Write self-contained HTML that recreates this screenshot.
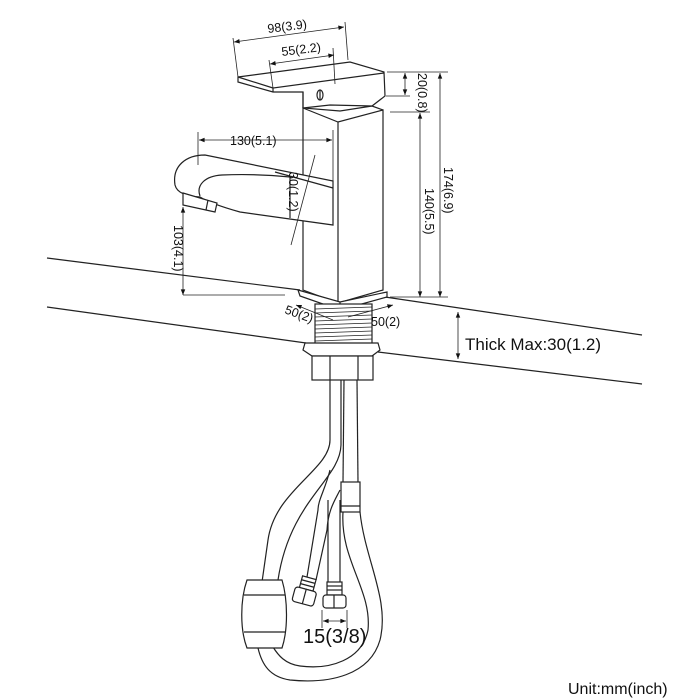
<!DOCTYPE html>
<html><head><meta charset="utf-8"><style>
html,body{margin:0;padding:0;background:#fff}
svg{display:block}
text{font-family:"Liberation Sans",Arial,sans-serif;fill:#111}
</style></head><body>
<svg width="700" height="700" viewBox="0 0 700 700" xmlns="http://www.w3.org/2000/svg">
<defs>
<marker id="a" viewBox="0 0 10 10" refX="10" refY="5" markerWidth="8" markerHeight="7" orient="auto-start-reverse"><path d="M0,1 L10,5 L0,9z" fill="#111"/></marker>
</defs>
<g fill="none" stroke="#222" stroke-width="1.2">
<!-- sink lines -->
<line x1="47" y1="258" x2="300" y2="290"/>
<line x1="385" y1="297" x2="642" y2="335"/>
<line x1="47" y1="307" x2="306" y2="343"/>
<line x1="378" y1="352" x2="642" y2="384"/>

<!-- handle -->
<path d="M238,77 L350,62 L384,72 L385,96 L372,106 L340,111 L303,108 L303,92 L273,92 L238,82 Z" fill="#fff"/>
<path d="M273,92 L273,88 L384,73"/>
<path d="M238,77 L273,88"/>
<path d="M303,92 L303,108"/>
<ellipse cx="320" cy="95" rx="3" ry="5"/>
<line x1="320" y1="90" x2="320" y2="100"/>
<!-- body -->
<path d="M303,108 L338,122 L383,110 L383,290 L338,303 L303,290 Z" fill="#fff"/>
<line x1="338" y1="122" x2="338" y2="303"/>
<path d="M303,108 L330,105 L372,106 L383,110" />
<!-- spout -->
<path d="M175,185 C172,166 186,155 205,155 L333,181 L333,225 L240,212 C222,207 208,202 200,197 C186,196 177,193 175,185 Z" fill="#fff"/>
<path d="M200,196 C196,185 205,176 222,175 C245,174 270,175 290,177 L290,218"/>
<path d="M275,172 L333,188"/>
<path d="M183,193 L217,203 L215,212 L183,205 Z" fill="#fff"/>
<line x1="208" y1="200" x2="206" y2="210"/>
<!-- base plate -->
<path d="M298,290 L340,302 L387,292 L387,297 L340,310 L300,296 Z" fill="#fff"/>
<line x1="340" y1="302" x2="340" y2="310"/>
<!-- threads -->
<rect x="315" y="304" width="57" height="41" fill="#fff"/>
<g stroke-width="0.8">
<line x1="315" y1="309" x2="372" y2="307"/><line x1="315" y1="313" x2="372" y2="311"/>
<line x1="315" y1="317" x2="372" y2="315"/><line x1="315" y1="321" x2="372" y2="319"/>
<line x1="315" y1="325" x2="372" y2="323"/><line x1="315" y1="329" x2="372" y2="327"/>
<line x1="315" y1="333" x2="372" y2="331"/><line x1="315" y1="337" x2="372" y2="335"/>
<line x1="315" y1="341" x2="372" y2="339"/>
</g>
<!-- washer & nut -->
<path d="M305,343 L378,343 L380,350 L372,356 L312,356 L303,350 Z" fill="#fff"/>
<rect x="312" y="356" width="61" height="24" fill="#fff"/>
<line x1="330" y1="356" x2="330" y2="380"/><line x1="358" y1="356" x2="358" y2="380"/>
<!-- hoses -->
<path d="M330,380 L330,440 C330,470 275,490 268,540 L262,582"/>
<path d="M341,380 L341,445 C340,480 290,500 278,580"/>
<path d="M330,470 C325,490 318,500 318,510 L307,577"/>
<path d="M340,490 C335,500 328,510 327,530 L316,580"/>
<line x1="328" y1="500" x2="328" y2="582"/>
<line x1="340" y1="500" x2="340" y2="582"/>
<line x1="344" y1="380" x2="343" y2="482"/>
<line x1="357" y1="380" x2="358" y2="482"/>
<rect x="341" y="482" width="19" height="30" fill="#fff"/>
<line x1="341" y1="506" x2="360" y2="506"/>
<path d="M360,512 C365,560 390,600 380,640 C370,675 330,684 290,680 C270,677 262,665 258,648"/>
<path d="M343,512 C340,560 372,590 368,630 C362,660 330,670 300,666 C285,664 278,655 273,647"/>
<!-- cylinder -->
<path d="M247,580 L282,580 C288,600 288,630 282,648 L247,648 C240,630 240,600 247,580 Z" fill="#fff"/>
<line x1="244" y1="595" x2="285" y2="595"/>
<line x1="244" y1="632" x2="285" y2="632"/>
<!-- connectors -->
<g transform="rotate(15 305 590)">
<rect x="299" y="577" width="14" height="12" fill="#fff"/>
<line x1="299" y1="581" x2="313" y2="581"/><line x1="299" y1="585" x2="313" y2="585"/>
<rect x="295" y="589" width="22" height="15" rx="3" fill="#fff"/>
<line x1="306" y1="589" x2="306" y2="604"/>
</g>
<rect x="327" y="582" width="15" height="13" fill="#fff"/>
<line x1="327" y1="586" x2="342" y2="586"/><line x1="327" y1="590" x2="342" y2="590"/>
<rect x="323" y="595" width="23" height="13" rx="3" fill="#fff"/>
<line x1="334" y1="595" x2="334" y2="608"/>

<!-- dimensions -->
<g stroke-width="0.8">
<line x1="233" y1="38" x2="238" y2="77"/><line x1="345" y1="22" x2="348" y2="60"/>
<line x1="234" y1="42" x2="344" y2="27" marker-start="url(#a)" marker-end="url(#a)"/>
<line x1="269" y1="60" x2="273" y2="88"/><line x1="333" y1="48" x2="335" y2="84"/>
<line x1="270" y1="64" x2="334" y2="55" marker-start="url(#a)" marker-end="url(#a)"/>
<line x1="387" y1="72" x2="448" y2="72"/><line x1="386" y1="96" x2="410" y2="96"/>
<line x1="405" y1="73" x2="405" y2="95" marker-start="url(#a)" marker-end="url(#a)"/>
<line x1="440" y1="73" x2="440" y2="297" marker-start="url(#a)" marker-end="url(#a)"/>
<line x1="390" y1="112" x2="430" y2="112"/>
<line x1="420" y1="113" x2="420" y2="297" marker-start="url(#a)" marker-end="url(#a)"/>
<line x1="390" y1="297" x2="448" y2="297"/>
<line x1="198" y1="132" x2="198" y2="165"/><line x1="333" y1="130" x2="333" y2="183"/>
<line x1="199" y1="140" x2="332" y2="140" marker-start="url(#a)" marker-end="url(#a)"/>
<line x1="315" y1="155" x2="291" y2="245"/>
<line x1="183" y1="207" x2="183" y2="295" marker-start="url(#a)" marker-end="url(#a)"/>
<line x1="183" y1="295" x2="285" y2="295"/>
<line x1="458" y1="312" x2="458" y2="359" marker-start="url(#a)" marker-end="url(#a)"/>
<line x1="322" y1="610" x2="322" y2="628"/><line x1="347" y1="610" x2="347" y2="628"/>
<line x1="323" y1="621" x2="346" y2="621" marker-start="url(#a)" marker-end="url(#a)"/>
<line x1="296" y1="305" x2="333" y2="320" marker-start="url(#a)"/>
<line x1="393" y1="305" x2="348" y2="317" marker-start="url(#a)"/>
</g>
</g>
<g font-size="12.5">
<text x="268" y="33" transform="rotate(-7 268 33)">98(3.9)</text>
<text x="282" y="56" transform="rotate(-7 282 56)">55(2.2)</text>
<text x="230" y="145">130(5.1)</text>
<text transform="translate(418,73) rotate(90)">20(0.8)</text>
<text transform="translate(444,167) rotate(90)">174(6.9)</text>
<text transform="translate(425,188) rotate(90)">140(5.5)</text>
<text transform="translate(289,172) rotate(90)">30(1.2)</text>
<text transform="translate(174,225) rotate(90)">103(4.1)</text>
<text transform="translate(284,313) rotate(20)">50(2)</text>
<text x="371" y="326">50(2)</text>
</g>
<text x="465" y="350" font-size="17">Thick Max:30(1.2)</text>
<text x="303" y="643" font-size="20">15(3/8)</text>
<text x="568" y="694" font-size="16">Unit:mm(inch)</text>
</svg>
</body></html>
